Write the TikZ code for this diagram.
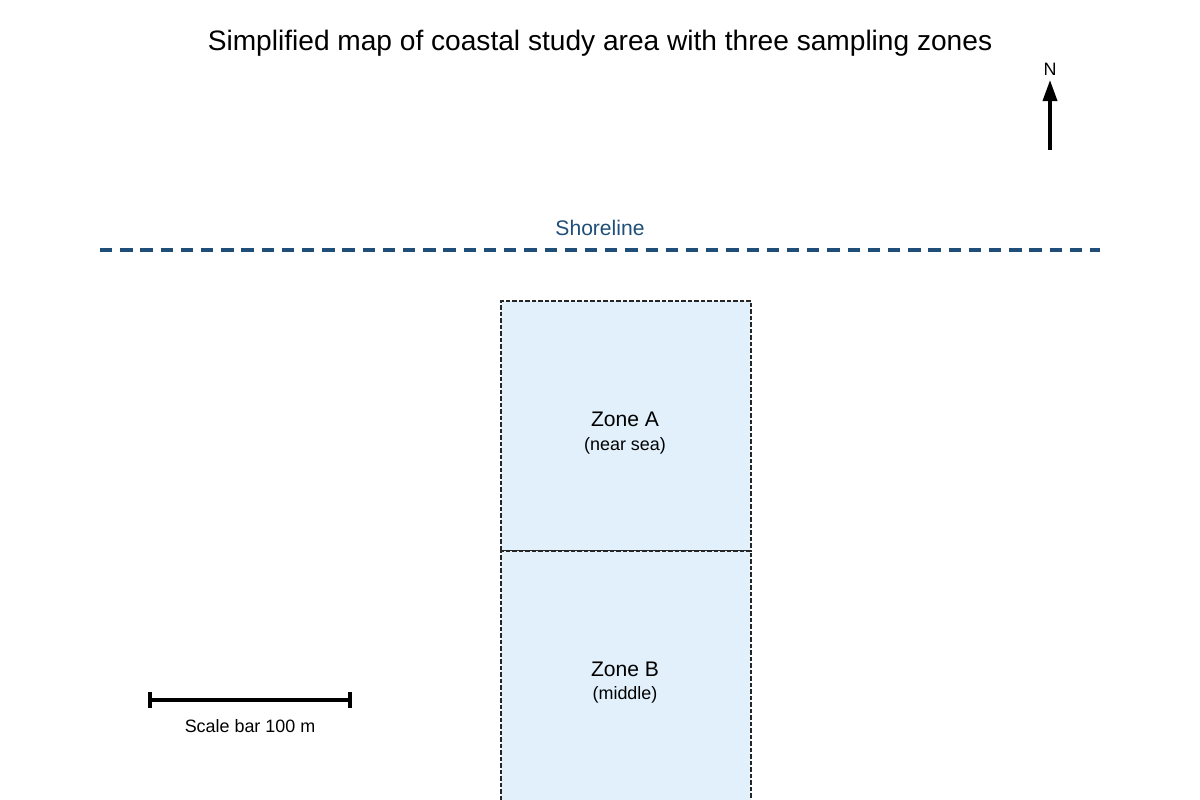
\documentclass[tikz,border=0pt]{standalone}
\usepackage{fontspec}
\setmainfont{Liberation Sans}
\usetikzlibrary{arrows.meta}
\definecolor{shore}{HTML}{1F4E79}
\definecolor{zonefill}{HTML}{E1F0FB}
\begin{document}
\begin{tikzpicture}[x=0.02cm,y=-0.02cm,
  zone/.style={draw=black!85,fill=zonefill,line width=1.3pt,dash pattern=on 2.5pt off 1.2pt,minimum width=250*0.02cm,minimum height=250*0.02cm,inner sep=0pt,anchor=north west},
  ttl/.style={font=\fontsize{16}{19}\selectfont},
  lbl/.style={font=\fontsize{12}{14}\selectfont},
  sub/.style={font=\fontsize{10.2}{12}\selectfont}]
\useasboundingbox (0,0) rectangle (1200,800);
\node[ttl] (title) at (600,43) {Simplified map of coastal study area with three sampling zones};
% north arrow
\coordinate (ntail) at (1050,150);
\coordinate (nhead) at (1050,80);
\draw[line width=2pt,-{Triangle[length=12pt,width=8pt]}] (ntail) -- (nhead);
\node[sub] (N) at (1050,69) {N};
% shoreline
\coordinate (s1) at (100,250);
\coordinate (s2) at (1100,250);
\draw[shore,line width=2.4pt,dash pattern=on 7pt off 4.5pt] (s1) -- (s2);
\node[lbl,text=shore] (shorelbl) at (600,228) {Shoreline};
% zones
\node[zone] (za) at (500,300) {};
\node[zone] (zb) at (500,550) {};
\node[lbl] (zat) at (625,419) {Zone A};
\node[sub] (zas) at (625,446) {(near sea)};
\node[lbl] (zbt) at (625,669) {Zone B};
\node[sub] (zbs) at (625,695) {(middle)};
% scale bar
\coordinate (b1) at (150,700);
\coordinate (b2) at (350,700);
\draw[line width=2pt] (b1) -- (b2);
\draw[line width=2pt] (150,692) -- (150,708) (350,692) -- (350,708);
\node[sub] (scl) at (250,726) {Scale bar 100 m};
\end{tikzpicture}
\end{document}
